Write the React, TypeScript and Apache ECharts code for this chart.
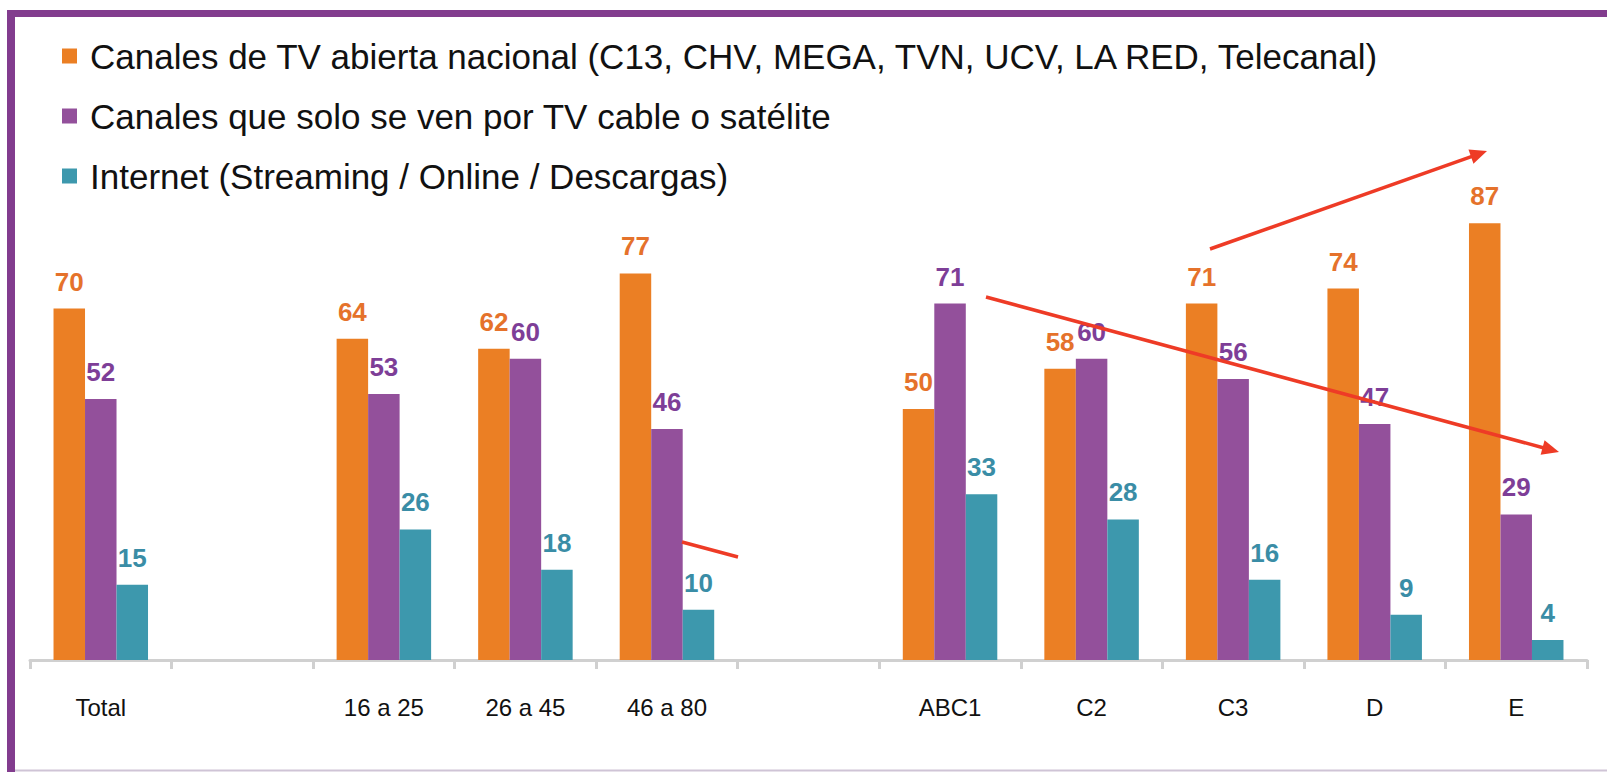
import React, { useEffect, useRef } from "react";
import * as echarts from "echarts";

const categories = ["Total", "", "16 a 25", "26 a 45", "46 a 80", "", "ABC1", "C2", "C3", "D", "E"];
const seriesNames = [
  "Canales de TV abierta nacional (C13, CHV, MEGA, TVN, UCV, LA RED, Telecanal)",
  "Canales que solo se ven por TV cable o satélite",
  "Internet (Streaming / Online / Descargas)",
];
const tvAbierta = [70, null, 64, 62, 77, null, 50, 58, 71, 74, 87];
const tvCable = [52, null, 53, 60, 46, null, 71, 60, 56, 47, 29];
const internet = [15, null, 26, 18, 10, null, 33, 28, 16, 9, 4];

const barColors = ["#EB7F24", "#93509B", "#3D98AD"];
const labelColors = ["#E5722B", "#7E3E97", "#3A8DA6"];
const FONT = '"Liberation Sans", Arial, sans-serif';
const RED = "#EE3B26";

function arrow(x1: number, y1: number, x2: number, y2: number, head: boolean) {
  const dx = x2 - x1;
  const dy = y2 - y1;
  const len = Math.sqrt(dx * dx + dy * dy);
  const ux = dx / len;
  const uy = dy / len;
  const hl = head ? 17 : 0;
  const hw = 7.5;
  const els: any[] = [
    {
      type: "line",
      z: 100,
      shape: { x1, y1, x2: x2 - ux * (hl * 0.8), y2: y2 - uy * (hl * 0.8) },
      style: { stroke: RED, lineWidth: 3.5 },
    },
  ];
  if (head) {
    const bx = x2 - ux * hl;
    const by = y2 - uy * hl;
    els.push({
      type: "polygon",
      z: 100,
      shape: {
        points: [
          [x2, y2],
          [bx - uy * hw, by + ux * hw],
          [bx + uy * hw, by - ux * hw],
        ],
      },
      style: { fill: RED },
    });
  }
  return els;
}

export default function App() {
  const ref = useRef<HTMLDivElement>(null);
  useEffect(() => {
    if (!ref.current) return;
    const chart = echarts.init(ref.current, null, { renderer: "svg" });
    const datasets = [tvAbierta, tvCable, internet];
    chart.setOption({
      animation: false,
      backgroundColor: "#ffffff",
      textStyle: { fontFamily: FONT },
      legend: {
        orient: "vertical",
        left: 62,
        top: 36,
        padding: 0,
        itemWidth: 15,
        itemHeight: 15,
        itemGap: 20,
        icon: "rect",
        selectedMode: false,
        data: seriesNames,
        textStyle: {
          fontFamily: FONT,
          fontSize: 35,
          lineHeight: 40,
          color: "#111111",
          padding: [0, 0, 0, 8],
        },
      },
      grid: { left: 30, right: 20, top: 158, bottom: 112, containLabel: false },
      xAxis: {
        type: "category",
        data: categories,
        axisLine: { lineStyle: { color: "#D0D0D0", width: 3 } },
        axisTick: { show: true, length: 9, lineStyle: { color: "#D0D0D0", width: 3 } },
        axisLabel: {
          margin: 33,
          fontFamily: FONT,
          fontSize: 24,
          lineHeight: 28,
          color: "#111111",
          interval: 0,
        },
      },
      yAxis: { type: "value", min: 0, max: 100, show: false, splitLine: { show: false } },
      series: seriesNames.map((name, i) => ({
        name,
        type: "bar",
        data: datasets[i],
        barWidth: 31.5,
        barGap: "0%",
        itemStyle: { color: barColors[i] },
        label: {
          show: true,
          position: "top",
          distance: 14,
          fontFamily: FONT,
          fontSize: 26,
          fontWeight: "bold",
          color: labelColors[i],
        },
      })),
      graphic: [
        { type: "rect", z: 50, shape: { x: 7, y: 10, width: 8, height: 762 }, style: { fill: "#823C8E" } },
        { type: "rect", z: 50, shape: { x: 7, y: 10, width: 1600, height: 7 }, style: { fill: "#823C8E" } },
        { type: "rect", z: 50, shape: { x: 15, y: 769.5, width: 1592, height: 2 }, style: { fill: "#CFC4D6" } },
        ...arrow(1210, 249, 1487, 151, true),
        ...arrow(986, 297, 1559, 452, true),
        ...arrow(682, 542, 738, 557, false),
      ],
    });
    return () => chart.dispose();
  }, []);
  return (
    <div
      ref={ref}
      style={{ position: "fixed", left: 0, top: 0, width: 1607, height: 772, background: "#fff" }}
    />
  );
}
